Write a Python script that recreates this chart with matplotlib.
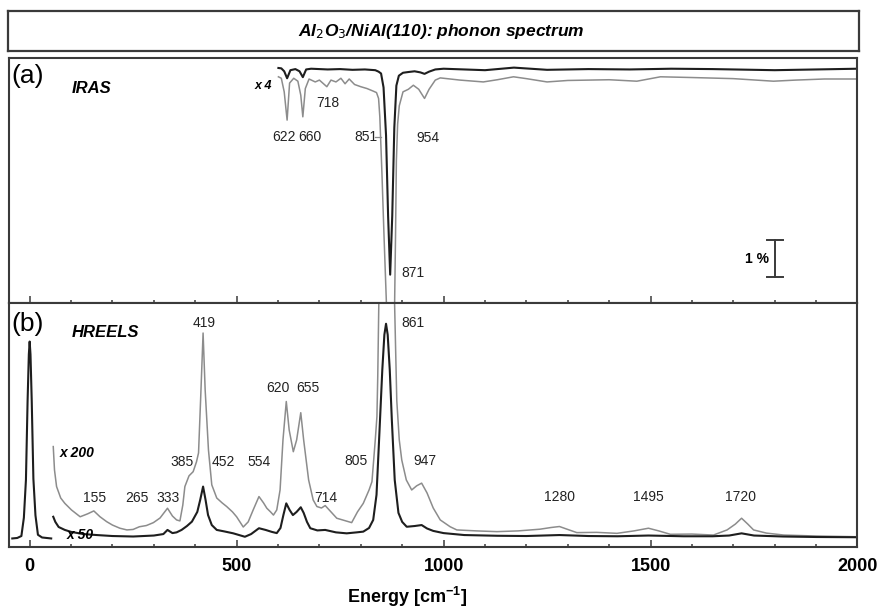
import matplotlib
matplotlib.use("Agg")
import matplotlib.pyplot as plt
from matplotlib.ticker import MultipleLocator

plt.rcParams['font.family'] = ['Liberation Sans', 'DejaVu Sans']
plt.rcParams['mathtext.fontset'] = 'custom'
plt.rcParams['mathtext.bf'] = 'Liberation Sans:bold'
plt.rcParams['mathtext.it'] = 'Liberation Sans:italic:bold'

# ---- IRAS, reflectance change in % (black: measured, gray: x 4) ----
iras_wn = [601, 608, 615, 622, 630, 642, 652, 660, 668, 680, 700, 720, 750, 780,
           810, 835, 843, 849, 855, 861, 866, 871, 876, 881, 886, 892, 902, 915,
           930, 944, 954, 965, 980, 1000, 1050, 1100, 1170, 1250, 1350, 1450,
           1550, 1650, 1800, 1900, 2000]
iras_black = [0.03, 0.02, -0.06, -0.25, -0.03, 0.0, -0.06, -0.22, -0.01, 0.01,
              0.0, -0.01, 0.0, -0.02, -0.01, -0.03, -0.07, -0.12, -0.5, -1.8,
              -4.0, -5.6, -4.0, -1.6, -0.45, -0.18, -0.1, -0.08, -0.06, -0.09,
              -0.13, -0.07, -0.01, 0.01, -0.01, -0.03, 0.04, -0.02, 0.0, -0.01,
              0.01, 0.0, -0.03, -0.01, 0.01]

iras_x4_wn = [601, 608, 615, 622, 628, 638, 648, 655, 660, 666, 675, 690, 700,
              710, 718, 728, 740, 752, 762, 772, 785, 800, 815, 830, 838, 843,
              846, 849, 851, 856, 862, 867, 871, 876, 881, 884, 886, 889, 893,
              902, 915, 927, 940, 954, 965, 980, 992, 1040, 1096, 1130, 1169,
              1200, 1250, 1300, 1350, 1400, 1467, 1524, 1600, 1700, 1797, 1850,
              1920, 2000]
iras_x4 = [-0.21, -0.25, -0.62, -1.39, -0.38, -0.25, -0.33, -0.71, -1.30, -0.53,
           -0.27, -0.35, -0.30, -0.40, -0.48, -0.30, -0.35, -0.25, -0.40, -0.27,
           -0.42, -0.48, -0.53, -0.60, -0.64, -0.80, -1.3, -2.2, -2.8, -4.5,
           -6.4, -9.0, -11.0, -9.0, -7.0, -4.5, -2.5, -1.5, -1.0, -0.62, -0.55,
           -0.44, -0.55, -0.80, -0.55, -0.30, -0.24, -0.30, -0.35, -0.29, -0.21,
           -0.26, -0.35, -0.31, -0.30, -0.29, -0.33, -0.21, -0.23, -0.26, -0.33,
           -0.30, -0.27, -0.27]

# ---- HREELS, intensity (arb. units) ----
elastic_wn = [-42, -30, -20, -14, -9, -5, -2, 0, 2, 5, 9, 14, 20, 30, 52]
elastic = [0.035, 0.037, 0.045, 0.12, 0.275, 0.60, 0.79, 0.843, 0.79, 0.60,
           0.28, 0.13, 0.05, 0.039, 0.035]

x50_wn = [57, 62, 70, 85, 100, 130, 162, 200, 250, 300, 323, 333, 345, 355, 367,
          380, 392, 405, 412, 419, 425, 431, 440, 452, 470, 492, 520, 535, 554,
          570, 585, 597, 606, 613, 620, 628, 636, 645, 655, 662, 670, 678, 695,
          714, 740, 766, 790, 806, 820, 830, 838, 845, 852, 857, 861, 865, 870,
          875, 882, 891, 900, 911, 930, 947, 960, 975, 1000, 1050, 1130, 1200,
          1280, 1350, 1420, 1495, 1580, 1650, 1690, 1720, 1750, 1820, 1900, 2000]
x50 = [0.124, 0.103, 0.082, 0.070, 0.062, 0.053, 0.049, 0.045, 0.043, 0.047,
       0.053, 0.070, 0.057, 0.060, 0.070, 0.086, 0.104, 0.144, 0.193, 0.248,
       0.193, 0.131, 0.090, 0.070, 0.064, 0.056, 0.042, 0.053, 0.077, 0.070,
       0.062, 0.057, 0.078, 0.131, 0.179, 0.152, 0.131, 0.144, 0.163, 0.140,
       0.103, 0.077, 0.068, 0.070, 0.060, 0.056, 0.060, 0.063, 0.078, 0.111,
       0.214, 0.468, 0.727, 0.871, 0.916, 0.871, 0.727, 0.522, 0.275, 0.140,
       0.103, 0.083, 0.086, 0.090, 0.076, 0.066, 0.057, 0.049, 0.046, 0.045,
       0.049, 0.045, 0.044, 0.047, 0.044, 0.044, 0.047, 0.056, 0.047, 0.043,
       0.041, 0.040]

x200_wn = [57, 60, 65, 75, 85, 101, 122, 140, 155, 170, 186, 200, 218, 235, 250,
           265, 282, 299, 315, 333, 345, 355, 363, 370, 375, 385, 395, 403, 408,
           413, 419, 424, 432, 440, 452, 465, 476, 490, 500, 516, 528, 540, 554,
           565, 573, 582, 589, 597, 605, 612, 620, 627, 637, 645, 655, 662, 674,
           685, 694, 705, 714, 728, 742, 760, 778, 792, 806, 820, 827, 835, 839,
           841, 844, 852, 861, 870, 881, 887, 893, 899, 910, 923, 935, 947, 960,
           975, 992, 1016, 1032, 1080, 1129, 1180, 1233, 1260, 1280, 1300, 1322,
           1370, 1419, 1460, 1495, 1520, 1548, 1600, 1652, 1685, 1705, 1720,
           1735, 1749, 1780, 1822, 1900, 2000]
x200 = [0.412, 0.316, 0.248, 0.201, 0.179, 0.152, 0.124, 0.136, 0.148, 0.124,
        0.104, 0.090, 0.077, 0.070, 0.072, 0.083, 0.088, 0.100, 0.119, 0.159,
        0.127, 0.111, 0.107, 0.172, 0.248, 0.292, 0.309, 0.349, 0.386, 0.604,
        0.878, 0.645, 0.398, 0.255, 0.201, 0.181, 0.166, 0.144, 0.124, 0.082,
        0.103, 0.152, 0.207, 0.181, 0.159, 0.144, 0.131, 0.152, 0.234, 0.439,
        0.597, 0.480, 0.391, 0.439, 0.551, 0.439, 0.275, 0.193, 0.166, 0.160,
        0.170, 0.144, 0.118, 0.109, 0.100, 0.144, 0.179, 0.234, 0.268, 0.439,
        0.535, 0.70, 1.05, 1.6, 1.84, 1.6, 1.05, 0.60, 0.439, 0.357, 0.275,
        0.234, 0.251, 0.262, 0.222, 0.160, 0.111, 0.083, 0.070, 0.066, 0.063,
        0.066, 0.073, 0.080, 0.084, 0.072, 0.059, 0.060, 0.056, 0.066, 0.077,
        0.066, 0.052, 0.053, 0.049, 0.070, 0.094, 0.118, 0.094, 0.070, 0.057,
        0.049, 0.045, 0.042]

# peak labels: (value, label x, label y)
iras_labels = [(622, 614, -1.85), (660, 676, -1.85), (718, 721, -0.93),
               (851, 812, -1.85), (954, 963, -1.88), (871, 927, -5.56)]
hreels_labels = [(155, 158, 0.201), (265, 259, 0.201), (333, 334, 0.201),
                 (385, 368, 0.349), (419, 421, 0.92), (452, 467, 0.349),
                 (554, 554, 0.349), (620, 600, 0.653), (655, 673, 0.653),
                 (714, 716, 0.201), (805, 789, 0.353), (861, 927, 0.92),
                 (947, 956, 0.353), (1280, 1279, 0.205), (1495, 1495, 0.205),
                 (1720, 1717, 0.205)]

black = '#1e1e1e'
gray = '#8c8c8c'
frame = '#3a3a3a'

fig = plt.figure(figsize=(8.79, 6.10), dpi=100)

# title box
ax_t = fig.add_axes([0.0091, 0.9156, 0.9681, 0.0656])
ax_t.set_xticks([])
ax_t.set_yticks([])
for s in ax_t.spines.values():
    s.set_color(frame)
    s.set_linewidth(1.6)
ax_t.text(0.509, 0.5, r'Al$_{\mathit{2}}$O$_{\mathit{3}}$/NiAl(110): phonon spectrum',
          ha='center', va='center', fontsize=12.5, fontweight='bold', style='italic',
          transform=ax_t.transAxes)

ax_a = fig.add_axes([0.0102, 0.5028, 0.9653, 0.4026])
ax_b = fig.add_axes([0.0102, 0.1033, 0.9653, 0.3995], sharex=ax_a)

for ax in (ax_a, ax_b):
    for s in ax.spines.values():
        s.set_color(frame)
        s.set_linewidth(1.5)
    ax.set_yticks([])
    ax.xaxis.set_major_locator(MultipleLocator(500))
    ax.xaxis.set_minor_locator(MultipleLocator(100))
    ax.tick_params(axis='x', which='both', direction='in', color=frame, width=1.1,
                   top=False)
    ax.tick_params(axis='x', which='major', length=5)
    ax.tick_params(axis='x', which='minor', length=2.5)

ax_a.tick_params(axis='x', labelbottom=False)
ax_b.tick_params(axis='x', labelsize=13, pad=8)
for t in ax_b.get_xticklabels():
    t.set_fontweight('bold')

ax_a.set_xlim(-50, 2000)
ax_a.set_ylim(-6.38, 0.31)
ax_b.set_ylim(0, 1.0)

# (a) IRAS
ax_a.plot(iras_x4_wn, iras_x4, color=gray, lw=1.1)
ax_a.plot(iras_wn, iras_black, color=black, lw=1.5)
ax_a.text(-43, -0.2, '(a)', fontsize=19, va='center', ha='left')
ax_a.text(102, -0.52, 'IRAS', fontsize=12, fontweight='bold', style='italic',
          va='center')
ax_a.text(564, -0.46, 'x 4', fontsize=9, fontweight='bold', style='italic',
          ha='center', va='center')
for val, lx, ly in iras_labels:
    ax_a.text(lx, ly, str(val), fontsize=10, ha='center', va='center',
              color='#222222')
ax_a.plot([834, 849], [-1.85, -1.85], color=gray, lw=0.9)

# 1 % scale bar
bar_x, bar_top = 1801, -4.66
ax_a.plot([bar_x, bar_x], [bar_top, bar_top - 1.0], color=frame, lw=1.4)
ax_a.plot([bar_x - 20, bar_x + 20], [bar_top, bar_top], color=frame, lw=1.4)
ax_a.plot([bar_x - 20, bar_x + 20], [bar_top - 1.0, bar_top - 1.0], color=frame, lw=1.4)
ax_a.text(1758, bar_top - 0.5, '1 %', fontsize=10, fontweight='bold',
          ha='center', va='center')

# (b) HREELS
ax_b.plot(x200_wn, x200, color=gray, lw=1.1)
ax_b.plot(elastic_wn, elastic, color=black, lw=1.5)
ax_b.plot(x50_wn, x50, color=black, lw=1.5)
ax_b.text(-43, 0.915, '(b)', fontsize=19, va='center', ha='left')
ax_b.text(102, 0.879, 'HREELS', fontsize=12, fontweight='bold', style='italic',
          va='center')
ax_b.text(73, 0.386, 'x 200', fontsize=10, fontweight='bold', style='italic',
          va='center')
ax_b.text(90, 0.049, 'x 50', fontsize=10, fontweight='bold', style='italic',
          va='center')
for val, lx, ly in hreels_labels:
    ax_b.text(lx, ly, str(val), fontsize=10, ha='center', va='center',
              color='#222222')

ax_b.set_xlabel(r'Energy [cm$^{\mathbf{-1}}$]', fontsize=13, fontweight='bold')
ax_b.xaxis.set_label_coords(0.469, -0.157)

fig.savefig('out.png', dpi=100)
